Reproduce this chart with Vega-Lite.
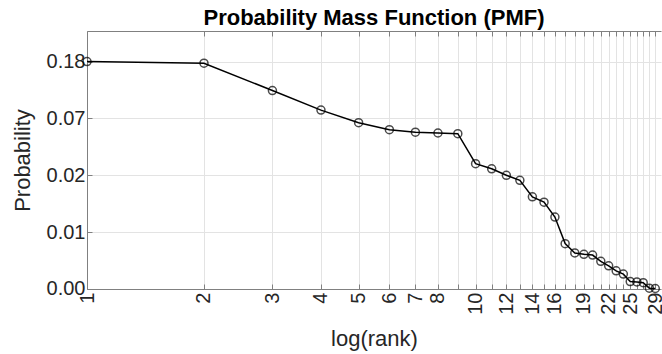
{
  "$schema": "https://vega.github.io/schema/vega-lite/v6.json",
  "width": 574,
  "height": 258,
  "autosize": "none",
  "padding": {"left": 87, "top": 31, "right": 1, "bottom": 65},
  "background": "white",
  "title": {"text": "Probability Mass Function (PMF)", "fontSize": 22, "font": "Liberation Sans", "fontWeight": "bold", "color": "#000000", "baseline": "alphabetic", "offset": 6, "dy": 22, "anchor": "middle"},
  "data": {"values": [
    {"rank": 1, "p": 0.1827},
    {"rank": 2, "p": 0.1776},
    {"rank": 3, "p": 0.1098},
    {"rank": 4, "p": 0.0778},
    {"rank": 5, "p": 0.0623},
    {"rank": 6, "p": 0.0551},
    {"rank": 7, "p": 0.0528},
    {"rank": 8, "p": 0.0520},
    {"rank": 9, "p": 0.0514},
    {"rank": 10, "p": 0.0303},
    {"rank": 11, "p": 0.0277},
    {"rank": 12, "p": 0.0247},
    {"rank": 13, "p": 0.0226},
    {"rank": 14, "p": 0.0169},
    {"rank": 15, "p": 0.0154},
    {"rank": 16, "p": 0.01184},
    {"rank": 17, "p": 0.00742},
    {"rank": 18, "p": 0.00630},
    {"rank": 19, "p": 0.00615},
    {"rank": 20, "p": 0.00607},
    {"rank": 21, "p": 0.00544},
    {"rank": 22, "p": 0.00502},
    {"rank": 23, "p": 0.00460},
    {"rank": 24, "p": 0.00434},
    {"rank": 25, "p": 0.00381},
    {"rank": 26, "p": 0.00378},
    {"rank": 27, "p": 0.00373},
    {"rank": 28, "p": 0.00339},
    {"rank": 29, "p": 0.00337}
  ]},
  "layer": [
    {
      "mark": {"type": "line", "color": "#000000", "strokeWidth": 1.5},
      "encoding": {
        "x": {"field": "rank", "type": "quantitative", "scale": {"type": "log", "domain": [1, 30], "nice": false},
          "axis": {"orient": "bottom", "title": "log(rank)", "values": [1,2,3,4,5,6,7,8,9,10,11,12,13,14,15,16,17,18,19,20,21,22,23,24,25,26,27,28,29],
            "format": "d", "labelExpr": "indexof([1,2,3,4,5,6,7,8,10,12,14,16,19,22,25,29], datum.value) >= 0 ? datum.label : ''",
            "labelAngle": 270, "labelPadding": 8, "labelOverlap": false, "labelFlush": false, "labelBound": false,
            "titleY": 56, "titleBaseline": "alphabetic"}},
        "y": {"field": "p", "type": "quantitative", "scale": {"type": "log", "domain": [0.00334, 0.313], "nice": false},
          "axis": {"title": "Probability", "values": [0.18268, 0.06721, 0.02472, 0.009095, 0.003346], "format": ".2f",
            "labelPadding": 7, "titleX": -58, "titleBaseline": "alphabetic", "labelOverlap": false, "labelFlush": false, "labelBound": false}}
      }
    },
    {
      "mark": {"type": "point", "shape": "circle", "filled": false, "color": "#000000", "size": 64, "strokeWidth": 1.5},
      "encoding": {
        "x": {"field": "rank", "type": "quantitative", "scale": {"type": "log", "domain": [1, 30], "nice": false}, "axis": null},
        "y": {"field": "p", "type": "quantitative", "scale": {"type": "log", "domain": [0.00334, 0.313], "nice": false},
          "axis": {"title": "Probability", "values": [0.18268, 0.06721, 0.02472, 0.009095, 0.003346], "format": ".2f",
            "labelPadding": 7, "titleX": -58, "titleBaseline": "alphabetic", "labelOverlap": false, "labelFlush": false, "labelBound": false}}
      }
    },
    {
      "mark": {"type": "point", "opacity": 0},
      "encoding": {
        "x": {"field": "rank", "type": "quantitative", "scale": {"type": "log", "domain": [1, 30], "nice": false},
          "axis": {"orient": "top", "title": null, "labels": false, "grid": false, "domain": true, "ticks": true, "domainColor": "#808080", "domainWidth": 1, "tickColor": "#808080", "tickSize": -5,
            "values": [1,2,3,4,5,6,7,8,9,10,11,12,13,14,15,16,17,18,19,20,21,22,23,24,25,26,27,28,29]}},
        "y": {"field": "p", "type": "quantitative", "scale": {"type": "log", "domain": [0.00334, 0.313], "nice": false},
          "axis": {"title": "Probability", "values": [0.18268, 0.06721, 0.02472, 0.009095, 0.003346], "format": ".2f",
            "labelPadding": 7, "titleX": -58, "titleBaseline": "alphabetic", "labelOverlap": false, "labelFlush": false, "labelBound": false}}
      }
    }
  ],
  "resolve": {"axis": {"x": "independent"}},
  "config": {
    "view": {"stroke": null},
    "axis": {
      "domainColor": "#808080",
      "tickColor": "#808080",
      "tickSize": -5,
      "grid": true,
      "gridColor": "#e3e3e3",
      "labelColor": "#262626",
      "titleColor": "#262626",
      "labelFont": "Liberation Sans",
      "titleFont": "Liberation Sans",
      "labelFontSize": 20,
      "titleFontSize": 22,
      "titleFontWeight": "normal"
    }
  }
}
